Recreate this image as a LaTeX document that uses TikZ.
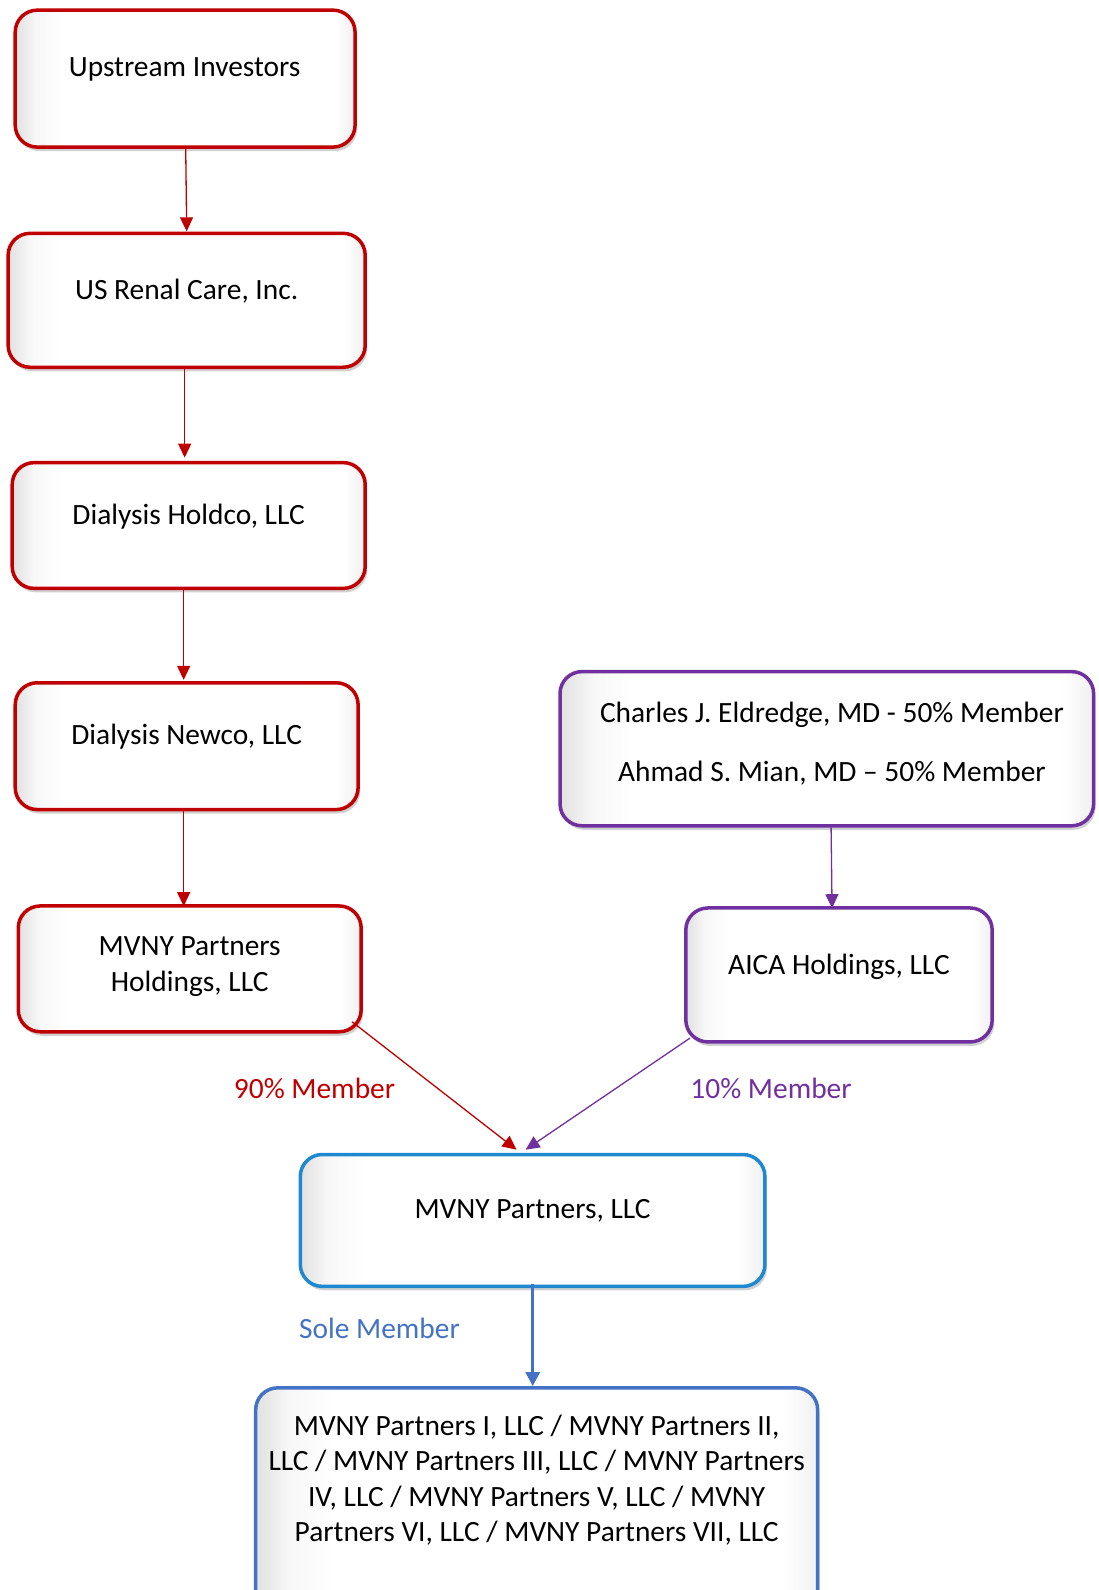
\documentclass[tikz,border=0pt]{standalone}
\usepackage{fontspec}
\setmainfont{Carlito}
\usetikzlibrary{arrows.meta,shadows,calc}
\definecolor{cred}{HTML}{C00000}
\definecolor{cpurple}{HTML}{7030A0}
\definecolor{cblue}{HTML}{1E88D0}
\definecolor{cblue2}{HTML}{4472C4}
\pgfdeclarehorizontalshading{boxshade}{100bp}{color(0bp)=(black!12); color(25bp)=(black!12); color(28bp)=(black!3); color(32bp)=(white); color(72bp)=(white); color(75bp)=(black!6); color(100bp)=(black!6)}
\tikzset{
  box/.style={rounded corners=22pt, line width=3.5pt, shading=boxshade,
     drop shadow={shadow xshift=2pt, shadow yshift=-4pt, opacity=0.3, fill=black!60}},
  redbox/.style={box, draw=cred},
  purplebox/.style={box, draw=cpurple},
  bluebox/.style={box, draw=cblue},
  blue2box/.style={box, draw=cblue2},
  txt/.style={font=\fontsize{29pt}{36pt}\selectfont, align=center, text=black},
  lbl/.style={font=\fontsize{29pt}{36pt}\selectfont},
  tip/.style={-{Triangle[length=14pt,width=13pt]}},
}
\begin{document}
\begin{tikzpicture}[x=1pt,y=-1pt]
\begin{scope}[scale=1.0145, transform shape]
% boxes
\node[redbox, minimum width=335pt, minimum height=135pt] (up) at (182.5,77.5) {};
\node[redbox, minimum width=352pt, minimum height=132pt] (usr) at (184,296) {};
\node[redbox, minimum width=348pt, minimum height=124pt] (hold) at (186,518) {};
\node[redbox, minimum width=338pt, minimum height=125pt] (newco) at (184,735.5) {};
\node[redbox, minimum width=338pt, minimum height=124pt] (mvh) at (187,955) {};
\node[purplebox, minimum width=526pt, minimum height=152pt] (ch) at (815,738) {};
\node[purplebox, minimum width=302pt, minimum height=132pt] (aica) at (827,961) {};
\node[bluebox, minimum width=458pt, minimum height=130pt] (mvp) at (525,1203) {};
\node[blue2box, minimum width=554pt, minimum height=240pt] (bot) at (529,1488) {};
% texts
\node[txt] (upT) at (182,68) {Upstream Investors};
\node[txt] (usrT) at (184,287) {US Renal Care, Inc.};
\node[txt] (holdT) at (186,509) {Dialysis Holdco, LLC};
\node[txt] (newT) at (184,726) {Dialysis Newco, LLC};
\node[txt] (mvhT) at (187,953) {MVNY Partners\\Holdings, LLC};
\node[txt] (chT) at (820,733) {Charles J. Eldredge, MD - 50\% Member\\[23pt]Ahmad S. Mian, MD -- 50\% Member};
\node[txt] (aicaT) at (827,953) {AICA Holdings, LLC};
\node[txt] (mvpT) at (525,1194) {MVNY Partners, LLC};
\node[txt, font=\fontsize{29pt}{35pt}\selectfont] (botT) at (529,1459) {MVNY Partners I, LLC / MVNY Partners II,\\LLC / MVNY Partners III, LLC / MVNY Partners\\IV, LLC / MVNY Partners V, LLC / MVNY\\Partners VI, LLC / MVNY Partners VII, LLC};
% labels
\node[lbl, text=cred] (l90) at (310,1073) {90\% Member};
\node[lbl, text=cpurple] (l10) at (760,1073) {10\% Member};
\node[lbl, text=cblue2] (lsole) at (374,1309) {Sole Member};
% connectors
\coordinate (a1s) at (183,145); \coordinate (a1e) at (184,228);
\coordinate (a2s) at (182,362); \coordinate (a2e) at (182,451);
\coordinate (a3s) at (181,580); \coordinate (a3e) at (181,670);
\coordinate (a4s) at (181,798); \coordinate (a4e) at (181,893);
\coordinate (a5s) at (819,814); \coordinate (a5e) at (820,895);
\coordinate (r1s) at (347,1007); \coordinate (r1e) at (509,1133);
\coordinate (p1s) at (680,1023); \coordinate (p1e) at (518,1133);
\coordinate (b1s) at (525,1265); \coordinate (b1e) at (525,1366);
\draw[cred, line width=1.3pt, tip] (a1s) -- (a1e);
\draw[cred, line width=1.3pt, tip] (a2s) -- (a2e);
\draw[cred, line width=1.3pt, tip] (a3s) -- (a3e);
\draw[cred, line width=1.3pt, tip] (a4s) -- (a4e);
\draw[cpurple, line width=1.3pt, tip] (a5s) -- (a5e);
\draw[cred, line width=1.3pt, tip] (r1s) -- (r1e);
\draw[cpurple, line width=1.3pt, tip] (p1s) -- (p1e);
\draw[cblue2, line width=3pt, -{Triangle[length=14pt,width=14pt]}] (b1s) -- (b1e);
\end{scope}
\pgfresetboundingbox
\path[use as bounding box] (0,0) rectangle (1098,1590);
\end{tikzpicture}
\end{document}
